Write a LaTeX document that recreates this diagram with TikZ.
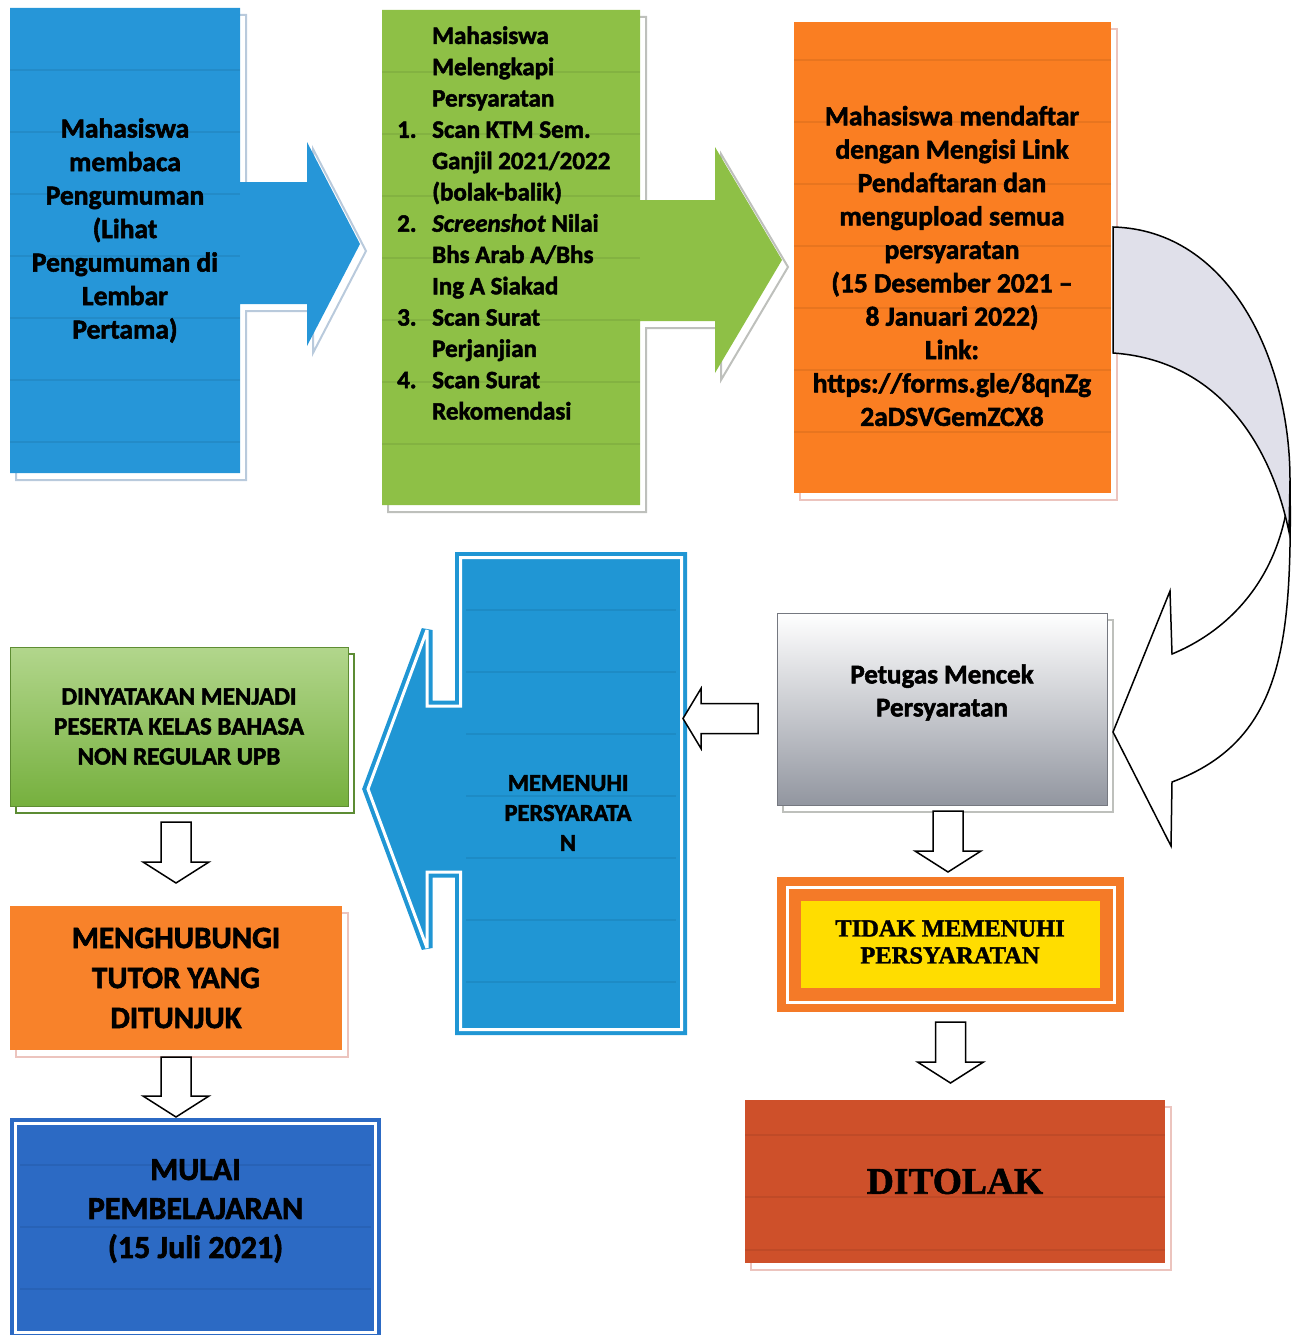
\documentclass[tikz,border=0pt]{standalone}
\usepackage{fontspec}
\setmainfont{Carlito}[BoldFont={Carlito Bold}, ItalicFont={Carlito Italic},
  BoldItalicFont={Carlito Bold Italic}, BoldFeatures={FakeBold=2},
  BoldItalicFeatures={FakeBold=2}]
\newfontfamily\timesfont{Liberation Serif}[BoldFeatures={FakeBold=1.5}]
\usetikzlibrary{calc}

\definecolor{readblue}{RGB}{38,150,216}
\definecolor{reqgreen}{RGB}{142,192,70}
\definecolor{regorange}{RGB}{250,126,34}
\definecolor{okblue}{RGB}{32,150,212}
\definecolor{startblue}{RGB}{44,106,196}
\definecolor{tutororange}{RGB}{248,130,42}
\definecolor{rejectred}{RGB}{206,80,42}
\definecolor{failyellow}{RGB}{255,221,0}
\definecolor{failorange}{RGB}{244,122,40}
\definecolor{curlgray}{RGB}{224,224,234}
\definecolor{checkgray}{RGB}{146,150,160}
\definecolor{memgreentop}{RGB}{178,214,140}
\definecolor{memgreenbot}{RGB}{118,176,62}
\definecolor{readshade}{RGB}{185,202,220}
\definecolor{greyshade}{RGB}{190,192,188}
\definecolor{pinkshade}{RGB}{236,196,190}
\definecolor{greenshade}{RGB}{92,140,52}

\tikzset{
  offline/.style={preaction={draw=#1, line width=2pt,
      transform canvas={shift={(6pt,-7pt)}}}},
  stripe/.style={black, opacity=0.07, line width=1.5pt},
  box/.style={rectangle, inner sep=0pt, outer sep=0pt},
  txt/.style={inner sep=0pt, align=center},
  hollow/.style={draw=black, fill=white, line width=1.5pt},
  frame/.style={draw=#1, double=white, double distance=3pt,
      line width=4pt, miter limit=3},
  curl/.style={draw=black, line width=1.5pt},
}
\newcommand\bodyfont[2]{\fontsize{#1}{#2}\selectfont\bfseries}
% hollow block arrows: start point, tip point
\newcommand\blockdown[2]{%
  \draw[hollow] let \p1=#1, \p2=#2 in
    (\x1-15pt,\y1) -- (\x1+15pt,\y1) -- (\x1+15pt,\y2+21pt)
    -- (\x1+33pt,\y2+21pt) -- (\x1,\y2) -- (\x1-33pt,\y2+21pt)
    -- (\x1-15pt,\y2+21pt) -- cycle;}
\newcommand\blockleft[2]{%
  \draw[hollow] let \p1=#1, \p2=#2 in
    (\x1,\y1+15pt) -- (\x1,\y1-15pt) -- (\x2+18pt,\y1-15pt)
    -- (\x2+18pt,\y1-30pt) -- (\x2,\y1) -- (\x2+18pt,\y1+30pt)
    -- (\x2+18pt,\y1+15pt) -- cycle;}

\begin{document}
\begin{tikzpicture}[x=1pt, y=-1pt]
\useasboundingbox (0,0) rectangle (1293,1335);

% Paso 1: membaca pengumuman
\fill[readblue, offline=readshade] (10,8) -- (240,8) -- (240,182) -- (307,182)
  -- (307,142) -- (360,244) -- (307,346) -- (307,304) -- (240,304)
  -- (240,473) -- (10,473) -- cycle;
\foreach \sy in {70,132,...,470} \draw[stripe] (10,\sy) -- (240,\sy);
\node[txt, font=\bodyfont{27.5}{33.5}] (A) at (125,230.5)
  {Mahasiswa\\membaca\\Pengumuman\\(Lihat\\Pengumuman di\\Lembar\\Pertama)};

% Paso 2: persyaratan
\fill[reqgreen, offline=greyshade] (382,10) -- (640,10) -- (640,200) -- (715,200)
  -- (715,147) -- (782,260) -- (715,373) -- (715,321) -- (640,321)
  -- (640,505) -- (382,505) -- cycle;
\foreach \sy in {72,134,...,505} \draw[stripe] (382,\sy) -- (640,\sy);
\node[txt, anchor=west, align=left, font=\bodyfont{25}{31.3}] (B) at (397,223)
  {\hspace*{35pt}Mahasiswa\\
   \hspace*{35pt}Melengkapi\\
   \hspace*{35pt}Persyaratan\\
   \makebox[35pt][l]{1.}Scan KTM Sem.\\
   \hspace*{35pt}Ganjil 2021/2022\\
   \hspace*{35pt}(bolak-balik)\\
   \makebox[35pt][l]{2.}\textit{Screenshot} Nilai\\
   \hspace*{35pt}Bhs Arab A/Bhs\\
   \hspace*{35pt}Ing A Siakad\\
   \makebox[35pt][l]{3.}Scan Surat\\
   \hspace*{35pt}Perjanjian\\
   \makebox[35pt][l]{4.}Scan Surat\\
   \hspace*{35pt}Rekomendasi};

% Paso 3: mendaftar
\node[box, fill=regorange, offline=pinkshade, minimum width=317pt,
  minimum height=471pt] (C) at (952.5,257.5) {};
\foreach \sy in {60,122,...,490} \draw[stripe] (794,\sy) -- (1111,\sy);
\node[txt, font=\bodyfont{27.5}{33.4}] (Ct) at (952,266)
  {Mahasiswa mendaftar\\dengan Mengisi Link\\Pendaftaran dan\\mengupload semua\\
   persyaratan\\(15 Desember 2021 –\\8 Januari 2022)\\Link:\\
   https://forms.gle/8qnZg\\2aDSVGemZCX8};

% Petugas
\node[box, top color=white, bottom color=checkgray, draw=checkgray!80!black,
  line width=0.8pt, offline=greyshade, minimum width=330pt,
  minimum height=192pt] (D) at (942,709) {};
\node[txt, font=\bodyfont{27}{33}] (Dt) at (942,692.5)
  {Petugas Mencek\\Persyaratan};

% curl from Paso 3 down to Petugas
\coordinate (curltop) at (1113,227);
\coordinate (curlbot) at (1113,353);
\coordinate (curltip) at (1113,732);
\filldraw[curl, fill=white] (1290,480) .. controls (1292,640) and (1285,740) .. (1172,782)
  -- (1171,846) -- (curltip) -- (1170,591) -- (1172,654)
  .. controls (1235,628) and (1285,570) .. (1290,480) -- cycle;
\filldraw[curl, fill=curlgray] (curltop) .. controls (1230,230) and (1290,360) .. (1290,480)
  -- (1289,532) .. controls (1270,440) and (1215,360) .. (curlbot) -- cycle;

% memenuhi
\filldraw[fill=okblue, frame=okblue] (460.5,557.5) -- (681.5,557.5)
  -- (681.5,1029.5) -- (460.5,1029.5) -- (460.5,872) -- (427,872)
  -- (427,948) -- (368,789) -- (427,630) -- (427,706) -- (460.5,706) -- cycle;
\foreach \sy in {610,672,...,1020} \draw[stripe] (466,\sy) -- (676,\sy);
\node[txt, font=\bodyfont{24.5}{30}] (E) at (568,813)
  {MEMENUHI\\PERSYARATA\\N};
\coordinate (Eedge) at (683,718.5);

% tidak memenuhi
\node[box, fill=failorange, minimum width=347pt, minimum height=135pt]
  (F) at (950.5,944.5) {};
\draw[white, line width=3pt] ([shift={(10pt,-10pt)}]F.north west)
  rectangle ([shift={(-10pt,10pt)}]F.south east);
\fill[failyellow] ([shift={(24pt,-24pt)}]F.north west)
  rectangle ([shift={(-24pt,24pt)}]F.south east);
\node[txt, font=\timesfont\bfseries\fontsize{24.5}{27}\selectfont] (Ft) at (950,942)
  {TIDAK MEMENUHI\\PERSYARATAN};

% ditolak
\node[box, fill=rejectred, offline=pinkshade, minimum width=420pt,
  minimum height=163pt, font=\timesfont\bfseries\fontsize{37.5}{40}\selectfont]
  (J) at (955,1181.5) {DITOLAK};
\foreach \sy in {1135,1197,1250} \draw[stripe] (745,\sy) -- (1165,\sy);

% dinyatakan menjadi peserta
\node[box, top color=memgreentop, bottom color=memgreenbot,
  draw=memgreenbot!80!black, offline=greenshade, minimum width=338pt,
  minimum height=159pt, align=center, font=\bodyfont{25}{30}]
  (G) at (179,726.5) {DINYATAKAN MENJADI\\PESERTA KELAS BAHASA\\NON REGULAR UPB};

% menghubungi tutor
\node[box, fill=tutororange, offline=pinkshade, minimum width=332pt,
  minimum height=144pt, align=center, font=\bodyfont{31}{40}]
  (H) at (176,978) {MENGHUBUNGI\\TUTOR YANG\\DITUNJUK};

% mulai pembelajaran
\node[box, fill=startblue, frame=startblue, minimum width=360pt,
  minimum height=209pt] (I) at (195.5,1227.5) {};
\foreach \sy in {1165,1227,1289} \draw[stripe] (20,\sy) -- (371,\sy);
\node[txt, font=\bodyfont{32}{39}] (It) at (195.5,1211)
  {MULAI\\PEMBELAJARAN\\(15 Juli 2021)};

% block arrows
\blockleft{([shift={(-19pt,-9.5pt)}]D.west)}{(Eedge)}
\blockdown{([shift={(6pt,-6pt)}]D.south)}{([yshift=5pt]F.north)}
\blockdown{([yshift=-10pt]F.south)}{([yshift=17pt]J.north)}
\blockdown{([shift={(-3pt,-16pt)}]G.south)}{([yshift=23pt]H.north)}
\blockdown{([yshift=-7pt]H.south)}{([yshift=6pt]I.north)}
\end{tikzpicture}
\end{document}
